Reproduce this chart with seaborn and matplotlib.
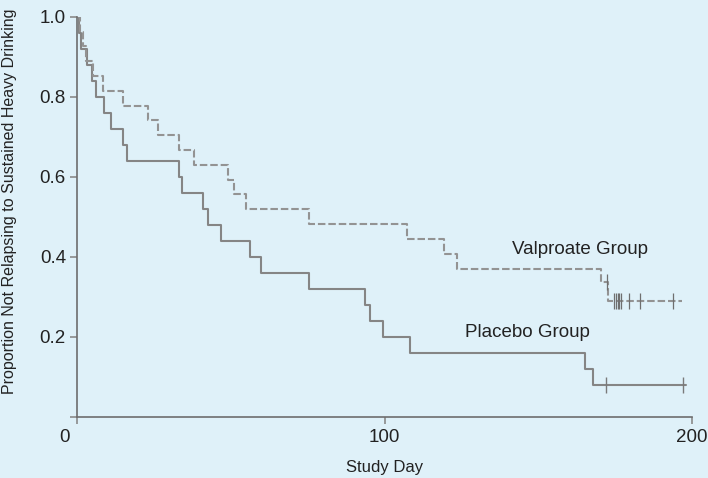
import matplotlib
matplotlib.use("Agg")
import matplotlib.pyplot as plt
import matplotlib.transforms as mtransforms
import seaborn as sns
import pandas as pd

# ---- data ----
placebo_days = [0, 0.75, 1.2, 3.1, 5.0, 6.1, 8.7, 11.2, 15.0, 16.1, 33.2, 34.2,
                40.9, 42.6, 46.8, 56.3, 59.8, 75.4, 93.7, 95.3, 99.5, 108.3,
                165.2, 167.8, 198.0]
placebo_surv = [1.0, 0.96, 0.92, 0.88, 0.84, 0.80, 0.76, 0.72, 0.68, 0.64, 0.60, 0.56,
                0.52, 0.48, 0.44, 0.40, 0.36, 0.32, 0.28, 0.24, 0.20, 0.16,
                0.12, 0.08, 0.08]
placebo_cens_days = [172.0, 197.0]
placebo_cens_surv = [0.08, 0.08]

valp_days = [0, 1.0, 2.0, 3.0, 5.3, 8.5, 15.0, 23.0, 26.4, 33.2, 38.1, 49.2, 51.0,
             54.9, 75.4, 107.3, 119.4, 123.5, 170.4, 172.8, 196.7]
valp_surv = [1.0, 0.963, 0.926, 0.889, 0.852, 0.815, 0.778, 0.741, 0.704, 0.667,
             0.630, 0.593, 0.556, 0.519, 0.481, 0.444, 0.407, 0.370, 0.337, 0.29, 0.29]
valp_cens_days = [172.3, 174.6, 175.2, 175.8, 176.4, 177.0, 179.5, 183.1, 193.9]
valp_cens_surv = [0.337, 0.29, 0.29, 0.29, 0.29, 0.29, 0.29, 0.29, 0.29]

x_ticks = [0, 100, 200]
y_ticks = [0.0, 0.2, 0.4, 0.6, 0.8, 1.0]
y_tick_labels = ["", "0.2", "0.4", "0.6", "0.8", "1.0"]

# ---- style ----
BG = "#dff1f9"
sns.set_style("ticks")
plt.rcParams["font.family"] = ["Liberation Sans", "DejaVu Sans"]

fig = plt.figure(figsize=(7.08, 4.78), dpi=100, facecolor=BG)
W, H = 708, 478
left, right, top, bottom = 77, 692, 16.7, 417
ax = fig.add_axes([left / W, 1 - bottom / H, (right - left) / W, (bottom - top) / H])
ax.set_facecolor(BG)

pl = pd.DataFrame({"day": placebo_days, "surv": placebo_surv})
vp = pd.DataFrame({"day": valp_days, "surv": valp_surv})
plc = pd.DataFrame({"day": placebo_cens_days, "surv": placebo_cens_surv})
vpc = pd.DataFrame({"day": valp_cens_days, "surv": valp_cens_surv})

sns.lineplot(data=pl, x="day", y="surv", drawstyle="steps-post", estimator=None,
             color="#858585", linewidth=1.5, ax=ax)
sns.lineplot(data=vp, x="day", y="surv", drawstyle="steps-post", estimator=None,
             color="#939393", linewidth=1.5, dashes=False, ax=ax,
             linestyle=(0, (3.6, 1.4)))
sns.scatterplot(data=plc, x="day", y="surv", marker="|", s=130, color="#7a7a7a",
                linewidth=1.0, ax=ax, zorder=3)
sns.scatterplot(data=vpc, x="day", y="surv", marker="|", s=130, color="#6f6f6f",
                linewidth=0.9, ax=ax, zorder=3)

ax.text(163.5, 0.418, "Valproate Group", ha="center", va="center", fontsize=13.5, color="#222222")
ax.text(146.5, 0.210, "Placebo Group", ha="center", va="center", fontsize=13.5, color="#222222")

ax.set_xlim(0, 200)
ax.set_ylim(0, 1.0)
ax.set_xticks(x_ticks)
ax.set_xticklabels([str(t) for t in x_ticks])
ax.set_yticks(y_ticks)
ax.set_yticklabels(y_tick_labels)
for s in ["top", "right"]:
    ax.spines[s].set_visible(False)
for s in ["left", "bottom"]:
    ax.spines[s].set_color("#6e6e6e")
    ax.spines[s].set_linewidth(1.2)
ax.tick_params(axis="both", direction="out", length=5, width=1.2, color="#8a8a8a",
               labelsize=13.5, labelcolor="#222222")
ax.tick_params(axis="x", pad=4)
ax.tick_params(axis="y", pad=3)

# shift the "0" label left, as in the reference
lbl0 = ax.get_xticklabels()[0]
lbl0.set_transform(lbl0.get_transform() + mtransforms.ScaledTranslation(-13 / 100, 0, fig.dpi_scale_trans))

ax.set_xlabel("Study Day", fontsize=12, color="#222222")
ax.xaxis.label.set_va("center")
ax.xaxis.set_label_coords(0.5, -0.125)
ax.set_ylabel("Proportion Not Relapsing to Sustained Heavy Drinking", fontsize=11.5,
              color="#222222")
ax.yaxis.set_label_coords(-0.098, 0.54)

fig.savefig("out.png", dpi=100, facecolor=BG)
